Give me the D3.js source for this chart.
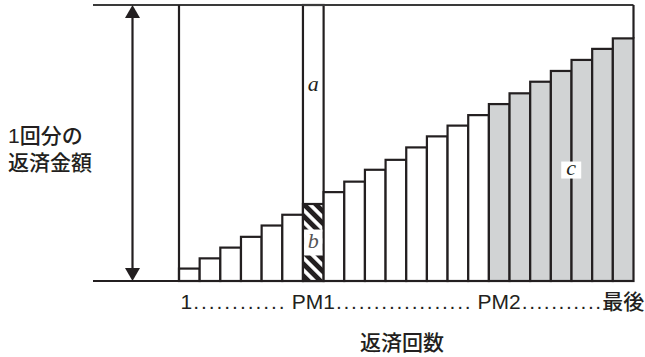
<!DOCTYPE html>
<html><head><meta charset="utf-8">
<script src="https://cdn.jsdelivr.net/npm/d3@7"></script>
<style>html,body{margin:0;padding:0;background:#fff;}svg{display:block;}</style>
</head><body>
<svg id="chart" width="645" height="357"></svg>
<script>
const categories = ["1","2","3","4","5","6","7","8","9","10","11","12","13","14","15","16","17","18","19","20","21","22"];
const values = [4.5, 8.2, 12.1, 16.0, 20.1, 24.0, 27.9, 32.2, 36.0, 40.3, 43.9, 48.4, 52.4, 56.3, 60.1, 64.1, 68.0, 72.2, 76.1, 80.1, 84.1, 87.9];
const fullAmount = 100;
const pm1Index = 6;
const pm2Index = 15;
const tickIndex = [0, 6, 15, 21];
const tickLabels = ["1", "PM1", "PM2", "最後"];
const yLabelLines = ["1回分の", "返済金額"];
const xTitle = "返済回数";

const ink = "#231f20", gray = "#d1d3d4";
const svg = d3.select("#chart");
const x = d3.scaleBand().domain(categories).range([179, 633.5]).padding(0);
const y = d3.scaleLinear().domain([0, fullAmount]).range([281, 5]);

const defs = svg.append("defs");
const pat = defs.append("pattern").attr("id","hatch").attr("patternUnits","userSpaceOnUse")
  .attr("width",8.5).attr("height",8.5).attr("patternTransform","rotate(-45)");
pat.append("rect").attr("width",8.5).attr("height",8.5).attr("fill","#fff");
pat.append("rect").attr("width",4.8).attr("height",8.5).attr("fill",ink);

const data = categories.map((c,i)=>({c, v: values[i], i}));
const sw = 2.2;

// PM1 full column
svg.append("rect").attr("x", x(categories[pm1Index])).attr("y", y(fullAmount))
  .attr("width", x.bandwidth()).attr("height", y(0)-y(fullAmount))
  .attr("fill","#fff").attr("stroke",ink).attr("stroke-width",sw);

// bars
svg.append("g").selectAll("rect").data(data).join("rect")
  .attr("x", d=>x(d.c)).attr("y", d=>y(d.v))
  .attr("width", x.bandwidth()).attr("height", d=>y(0)-y(d.v))
  .attr("fill", d=> d.i===pm1Index ? "url(#hatch)" : (d.i>=pm2Index ? gray : "#fff"))
  .attr("stroke", ink).attr("stroke-width", sw);

// frame lines
const xl = x(categories[0]), xr = x(categories[categories.length-1]) + x.bandwidth();
svg.append("line").attr("x1",93).attr("x2",xr).attr("y1",y(fullAmount)).attr("y2",y(fullAmount))
  .attr("stroke","#3a3a3a").attr("stroke-width",sw);
svg.append("line").attr("x1",93).attr("x2",xr).attr("y1",y(0)).attr("y2",y(0))
  .attr("stroke",ink).attr("stroke-width",sw);
svg.append("line").attr("x1",xl).attr("x2",xl).attr("y1",y(fullAmount)).attr("y2",y(0))
  .attr("stroke",ink).attr("stroke-width",sw);
svg.append("line").attr("x1",xr).attr("x2",xr).attr("y1",y(fullAmount)).attr("y2",y(values[values.length-1]))
  .attr("stroke",ink).attr("stroke-width",sw);

// double arrow
const ax = 132.5, ah = 13, aw = 7.5;
svg.append("line").attr("x1",ax).attr("x2",ax).attr("y1",y(fullAmount)+ah).attr("y2",y(0)-ah)
  .attr("stroke",ink).attr("stroke-width",sw);
svg.append("path").attr("d",`M${ax},${y(fullAmount)} L${ax+aw},${y(fullAmount)+ah} L${ax-aw},${y(fullAmount)+ah}Z`).attr("fill",ink);
svg.append("path").attr("d",`M${ax},${y(0)} L${ax+aw},${y(0)-ah} L${ax-aw},${y(0)-ah}Z`).attr("fill",ink);

// a, b, c labels
const cx6 = x(categories[pm1Index]) + x.bandwidth()/2;
const serif = "'Liberation Serif','Times New Roman',serif";
svg.append("text").attr("x",cx6).attr("y",y(71)+6).attr("text-anchor","middle")
  .attr("font-family",serif).attr("font-style","italic").attr("font-size",22).attr("fill",ink).text("a");
svg.append("rect").attr("x", x(categories[pm1Index])+1.1).attr("y", y(values[pm1Index]/2)-13)
  .attr("width", x.bandwidth()-2.2).attr("height", 26).attr("fill","#fff");
svg.append("text").attr("x",cx6).attr("y",y(values[pm1Index]/2)+6).attr("text-anchor","middle")
  .attr("font-family",serif).attr("font-style","italic").attr("font-size",22).attr("fill","#555").text("b");
const cxC = x(categories[19]) - 0.3;
svg.append("rect").attr("x", cxC-10).attr("y", y(40.2)-8.5).attr("width",20).attr("height",17).attr("fill","#fff");
svg.append("text").attr("x",cxC).attr("y",y(40.2)+5).attr("text-anchor","middle")
  .attr("font-family",serif).attr("font-style","italic").attr("font-size",22).attr("fill",ink).text("c");

// text labels
const sans = "'Liberation Sans','Noto Sans CJK JP',sans-serif";
const yl = svg.append("text").attr("font-family",sans).attr("font-size",21).attr("font-weight",500).attr("fill",ink);
yLabelLines.forEach((t,i)=> yl.append("tspan").attr("x",8).attr("y",143+i*27).text(t));

const tickG = svg.append("g").attr("font-family",sans).attr("font-size",21).attr("font-weight",500).attr("fill",ink);
const ty = 309;
const spans = tickIndex.map((ti,k)=>{
  const c = x(categories[ti]) + x.bandwidth()/2 - (k===0 ? 3 : 0);
  const t = tickG.append("text").attr("x", c).attr("y",ty)
    .attr("text-anchor","middle").text(tickLabels[k]);
  const w = t.node().getComputedTextLength();
  return [c - w/2, c + w/2];
});
const gaps = [[0,6],[1,6],[6,0]];
for (let k=0;k<spans.length-1;k++){
  const s = spans[k][1] + 1, e = spans[k+1][0] - gaps[k][1] - 1;
  const n = Math.max(3, Math.round((e-s)/7.5));
  tickG.append("text").attr("x", s).attr("y", ty).attr("textLength", e-s).attr("lengthAdjust","spacing")
    .text(".".repeat(n));
}
svg.append("text").attr("x",402).attr("y",350).attr("text-anchor","middle")
  .attr("font-family",sans).attr("font-size",21).attr("font-weight",500).attr("fill",ink).text(xTitle);
</script>
</body></html>
